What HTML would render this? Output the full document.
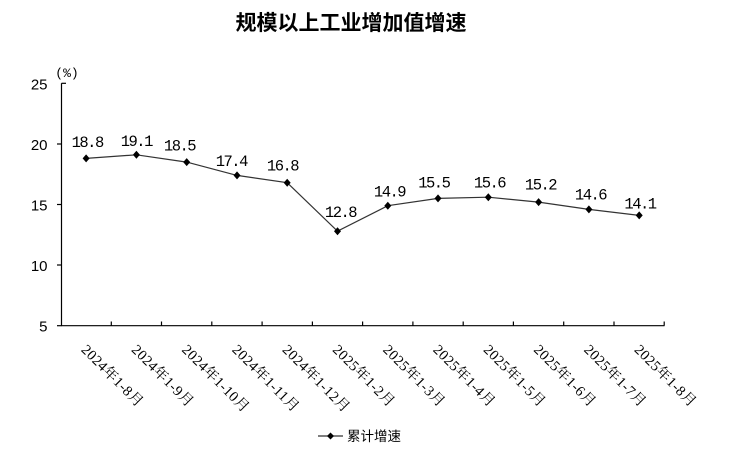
<!DOCTYPE html>
<html><head><meta charset="utf-8"><style>
html,body{margin:0;padding:0;background:#fff;}
svg{display:block;}
</style></head><body>
<svg width="744" height="456" viewBox="0 0 744 456" xmlns="http://www.w3.org/2000/svg">
<rect width="744" height="456" fill="#fff"/>
<text x="351" y="30" text-anchor="middle" font-family="'Liberation Sans','Noto Sans CJK SC',sans-serif" font-weight="bold" font-size="21" fill="#000">规模以上工业增加值增速</text>
<text x="67" y="77" text-anchor="middle" font-family="'Liberation Mono','Noto Sans CJK SC',monospace" font-size="13" fill="#000">(%)</text>
<g stroke="#000" stroke-width="1.2" fill="none">
<line x1="61.5" y1="83.3" x2="61.5" y2="326"/>
<line x1="61" y1="325.7" x2="664.5" y2="325.7"/>
<line x1="61.5" y1="83.3" x2="66" y2="83.3"/>
<line x1="57" y1="144" x2="61.5" y2="144"/>
<line x1="57" y1="204.5" x2="61.5" y2="204.5"/>
<line x1="57" y1="265" x2="61.5" y2="265"/>
<line x1="57" y1="325.7" x2="61.5" y2="325.7"/>
<line x1="111.3" y1="321.5" x2="111.3" y2="325.7"/>
<line x1="161.5" y1="321.5" x2="161.5" y2="325.7"/>
<line x1="211.8" y1="321.5" x2="211.8" y2="325.7"/>
<line x1="262.1" y1="321.5" x2="262.1" y2="325.7"/>
<line x1="312.4" y1="321.5" x2="312.4" y2="325.7"/>
<line x1="362.6" y1="321.5" x2="362.6" y2="325.7"/>
<line x1="412.9" y1="321.5" x2="412.9" y2="325.7"/>
<line x1="463.2" y1="321.5" x2="463.2" y2="325.7"/>
<line x1="513.4" y1="321.5" x2="513.4" y2="325.7"/>
<line x1="563.7" y1="321.5" x2="563.7" y2="325.7"/>
<line x1="614" y1="321.5" x2="614" y2="325.7"/>
<line x1="664.2" y1="321.5" x2="664.2" y2="325.7"/>
</g>
<g font-family="'Liberation Sans',sans-serif" font-size="15" fill="#000" text-anchor="end">
<text x="47.5" y="89.5">25</text>
<text x="47.5" y="150">20</text>
<text x="47.5" y="210.5">15</text>
<text x="47.5" y="271">10</text>
<text x="47.5" y="331.5">5</text>
</g>
<polyline fill="none" stroke="#333" stroke-width="1.2" points="86.1,158.4 136.4,154.8 186.7,162.1 237,175.4 287.2,182.7 337.5,231.2 387.8,205.7 438,198.4 488.3,197.2 538.6,202.1 588.9,209.4 639.2,215.4"/>
<g fill="#000">
<path d="M86.1,154.4 L89.6,158.4 L86.1,162.4 L82.6,158.4Z"/>
<path d="M136.4,150.8 L139.9,154.8 L136.4,158.8 L132.9,154.8Z"/>
<path d="M186.7,158.1 L190.2,162.1 L186.7,166.1 L183.2,162.1Z"/>
<path d="M237,171.4 L240.5,175.4 L237,179.4 L233.5,175.4Z"/>
<path d="M287.2,178.7 L290.7,182.7 L287.2,186.7 L283.7,182.7Z"/>
<path d="M337.5,227.2 L341,231.2 L337.5,235.2 L334,231.2Z"/>
<path d="M387.8,201.7 L391.3,205.7 L387.8,209.7 L384.3,205.7Z"/>
<path d="M438,194.4 L441.5,198.4 L438,202.4 L434.5,198.4Z"/>
<path d="M488.3,193.2 L491.8,197.2 L488.3,201.2 L484.8,197.2Z"/>
<path d="M538.6,198.1 L542.1,202.1 L538.6,206.1 L535.1,202.1Z"/>
<path d="M588.9,205.4 L592.4,209.4 L588.9,213.4 L585.4,209.4Z"/>
<path d="M639.2,211.4 L642.7,215.4 L639.2,219.4 L635.7,215.4Z"/>
</g>
<g font-family="'Liberation Mono',monospace" font-size="15.5" letter-spacing="-1.5" fill="#000" text-anchor="middle">
<text x="87.2" y="147">18.8</text>
<text x="136.3" y="146">19.1</text>
<text x="179.5" y="150.3">18.5</text>
<text x="231.3" y="166">17.4</text>
<text x="282.5" y="170.3">16.8</text>
<text x="340.5" y="217">12.8</text>
<text x="389.5" y="196.3">14.9</text>
<text x="433.8" y="187.6">15.5</text>
<text x="489.5" y="187.6">15.6</text>
<text x="540.5" y="189.6">15.2</text>
<text x="590.5" y="199.3">14.6</text>
<text x="640" y="208.6">14.1</text>
</g>
<g font-family="'Liberation Serif','Noto Serif CJK SC',serif" font-size="14.5" letter-spacing="0.4" fill="#000">
<text transform="translate(80.5,350.5) rotate(45)">2024年1-8月</text>
<text transform="translate(130.8,350.5) rotate(45)">2024年1-9月</text>
<text transform="translate(181.1,350.5) rotate(45)">2024年1-10月</text>
<text transform="translate(231.4,350.5) rotate(45)">2024年1-11月</text>
<text transform="translate(281.6,350.5) rotate(45)">2024年1-12月</text>
<text transform="translate(331.9,350.5) rotate(45)">2025年1-2月</text>
<text transform="translate(382.2,350.5) rotate(45)">2025年1-3月</text>
<text transform="translate(432.4,350.5) rotate(45)">2025年1-4月</text>
<text transform="translate(482.7,350.5) rotate(45)">2025年1-5月</text>
<text transform="translate(533,350.5) rotate(45)">2025年1-6月</text>
<text transform="translate(583.3,350.5) rotate(45)">2025年1-7月</text>
<text transform="translate(633.6,350.5) rotate(45)">2025年1-8月</text>
</g>
<line x1="318" y1="436" x2="343" y2="436" stroke="#333" stroke-width="1.2"/>
<path d="M330.5,432.5 L334,436 L330.5,439.5 L327,436Z" fill="#000"/>
<text x="347" y="441" font-family="'Liberation Sans','Noto Sans CJK SC',sans-serif" font-size="13.5" fill="#000">累计增速</text>
</svg>
</body></html>
